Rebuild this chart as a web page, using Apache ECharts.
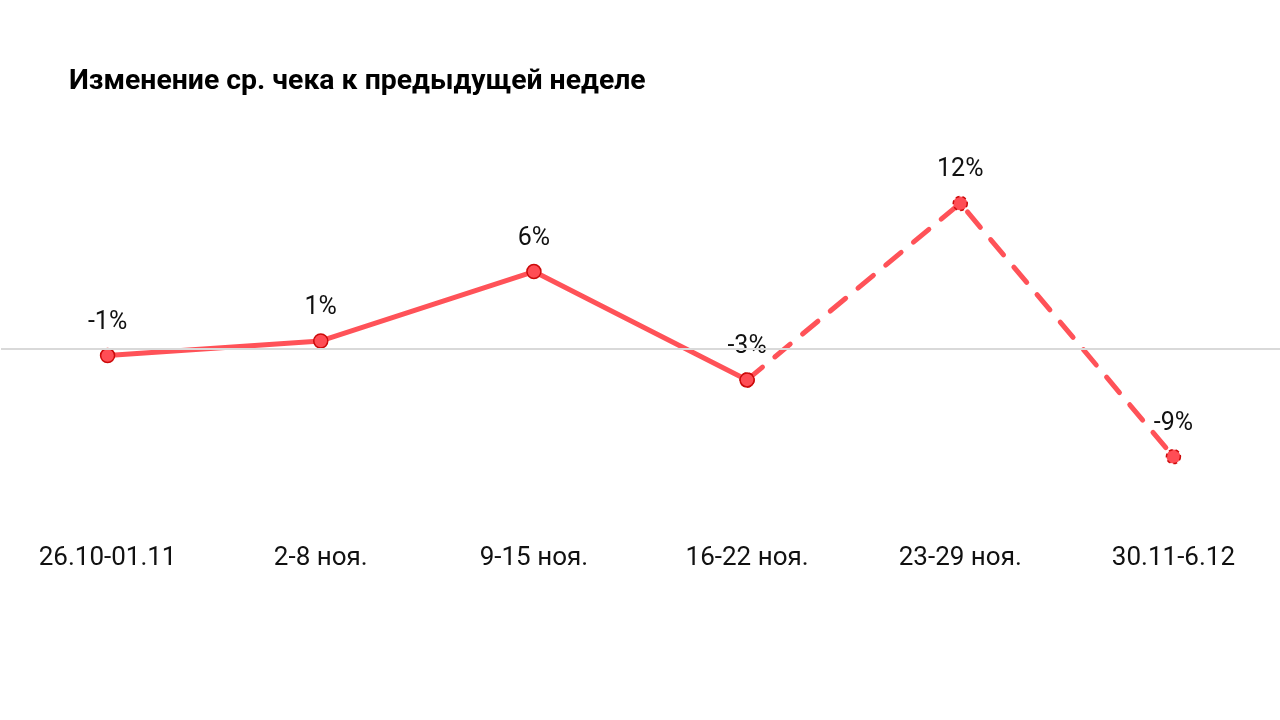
<!DOCTYPE html>
<html><head><meta charset="utf-8">
<script src="https://cdn.jsdelivr.net/npm/echarts@6/dist/echarts.min.js"></script>
<style>html,body{margin:0;padding:0;background:#fff}#c{width:1280px;height:720px}</style>
</head><body><div id="c"></div>
<script>
const title = 'Изменение ср. чека к предыдущей неделе';
const categories = ['26.10-01.11','2-8 ноя.','9-15 ноя.','16-22 ноя.','23-29 ноя.','30.11-6.12'];
const values = [-0.6, 0.6, 6.3, -2.6, 11.9, -8.9];
const solidCount = 4; // first four points drawn solid, rest dashed

const solidData = values.map((v,i)=> i < solidCount ? v : null);
const dashData = values.map((v,i)=> i >= solidCount-1 ? v : null);
const fmt = p => Math.round(p.value) + '%';

const chart = echarts.init(document.getElementById('c'));
const markerStyle = {color:'#ff4d55', borderColor:'#cc0a0a', borderWidth:1.5};
const labelStyle = {show:true, position:'top', distance:13, fontFamily:'Roboto', fontSize:25, color:'#111', formatter:fmt};
chart.setOption({
  animation:false,
  title:{text:title, left:64, top:63, textStyle:{fontFamily:'Roboto', fontWeight:'bold', fontSize:28.4, color:'#000'}},
  grid:{left:1, right:-1, top:190, bottom:250},
  xAxis:{type:'category', data:categories, boundaryGap:true, position:'bottom',
    axisLine:{show:false}, axisTick:{show:false},
    axisLabel:{fontFamily:'Roboto', fontSize:26, color:'#111', margin:75}
  },
  yAxis:{type:'value', min:-10, max:13, show:true, splitLine:{show:false}, axisLabel:{show:false}, axisTick:{show:false}, axisLine:{show:false}},
  series:[
    {type:'line', data:[], z:0, silent:true,
      markLine:{silent:true, symbol:'none', label:{show:false}, lineStyle:{color:'#d9d9d9', width:2, type:'solid'}, data:[{yAxis:0}]}
    },
    {type:'line', data:solidData, symbol:'circle', symbolSize:14, lineStyle:{color:'#ff5258', width:5, cap:'round'},
      itemStyle:markerStyle, label:labelStyle, z:3
    },
    {type:'line', data:dashData, symbol:'circle', symbolSize:14, lineStyle:{color:'#ff5258', width:5, type:[20,16], cap:'round'},
      itemStyle:Object.assign({}, markerStyle, {borderType:[4,3]}), z:2,
      label:Object.assign({}, labelStyle, {formatter:p=> p.dataIndex >= solidCount ? fmt(p) : ''})
    }
  ]
});
</script></body></html>
